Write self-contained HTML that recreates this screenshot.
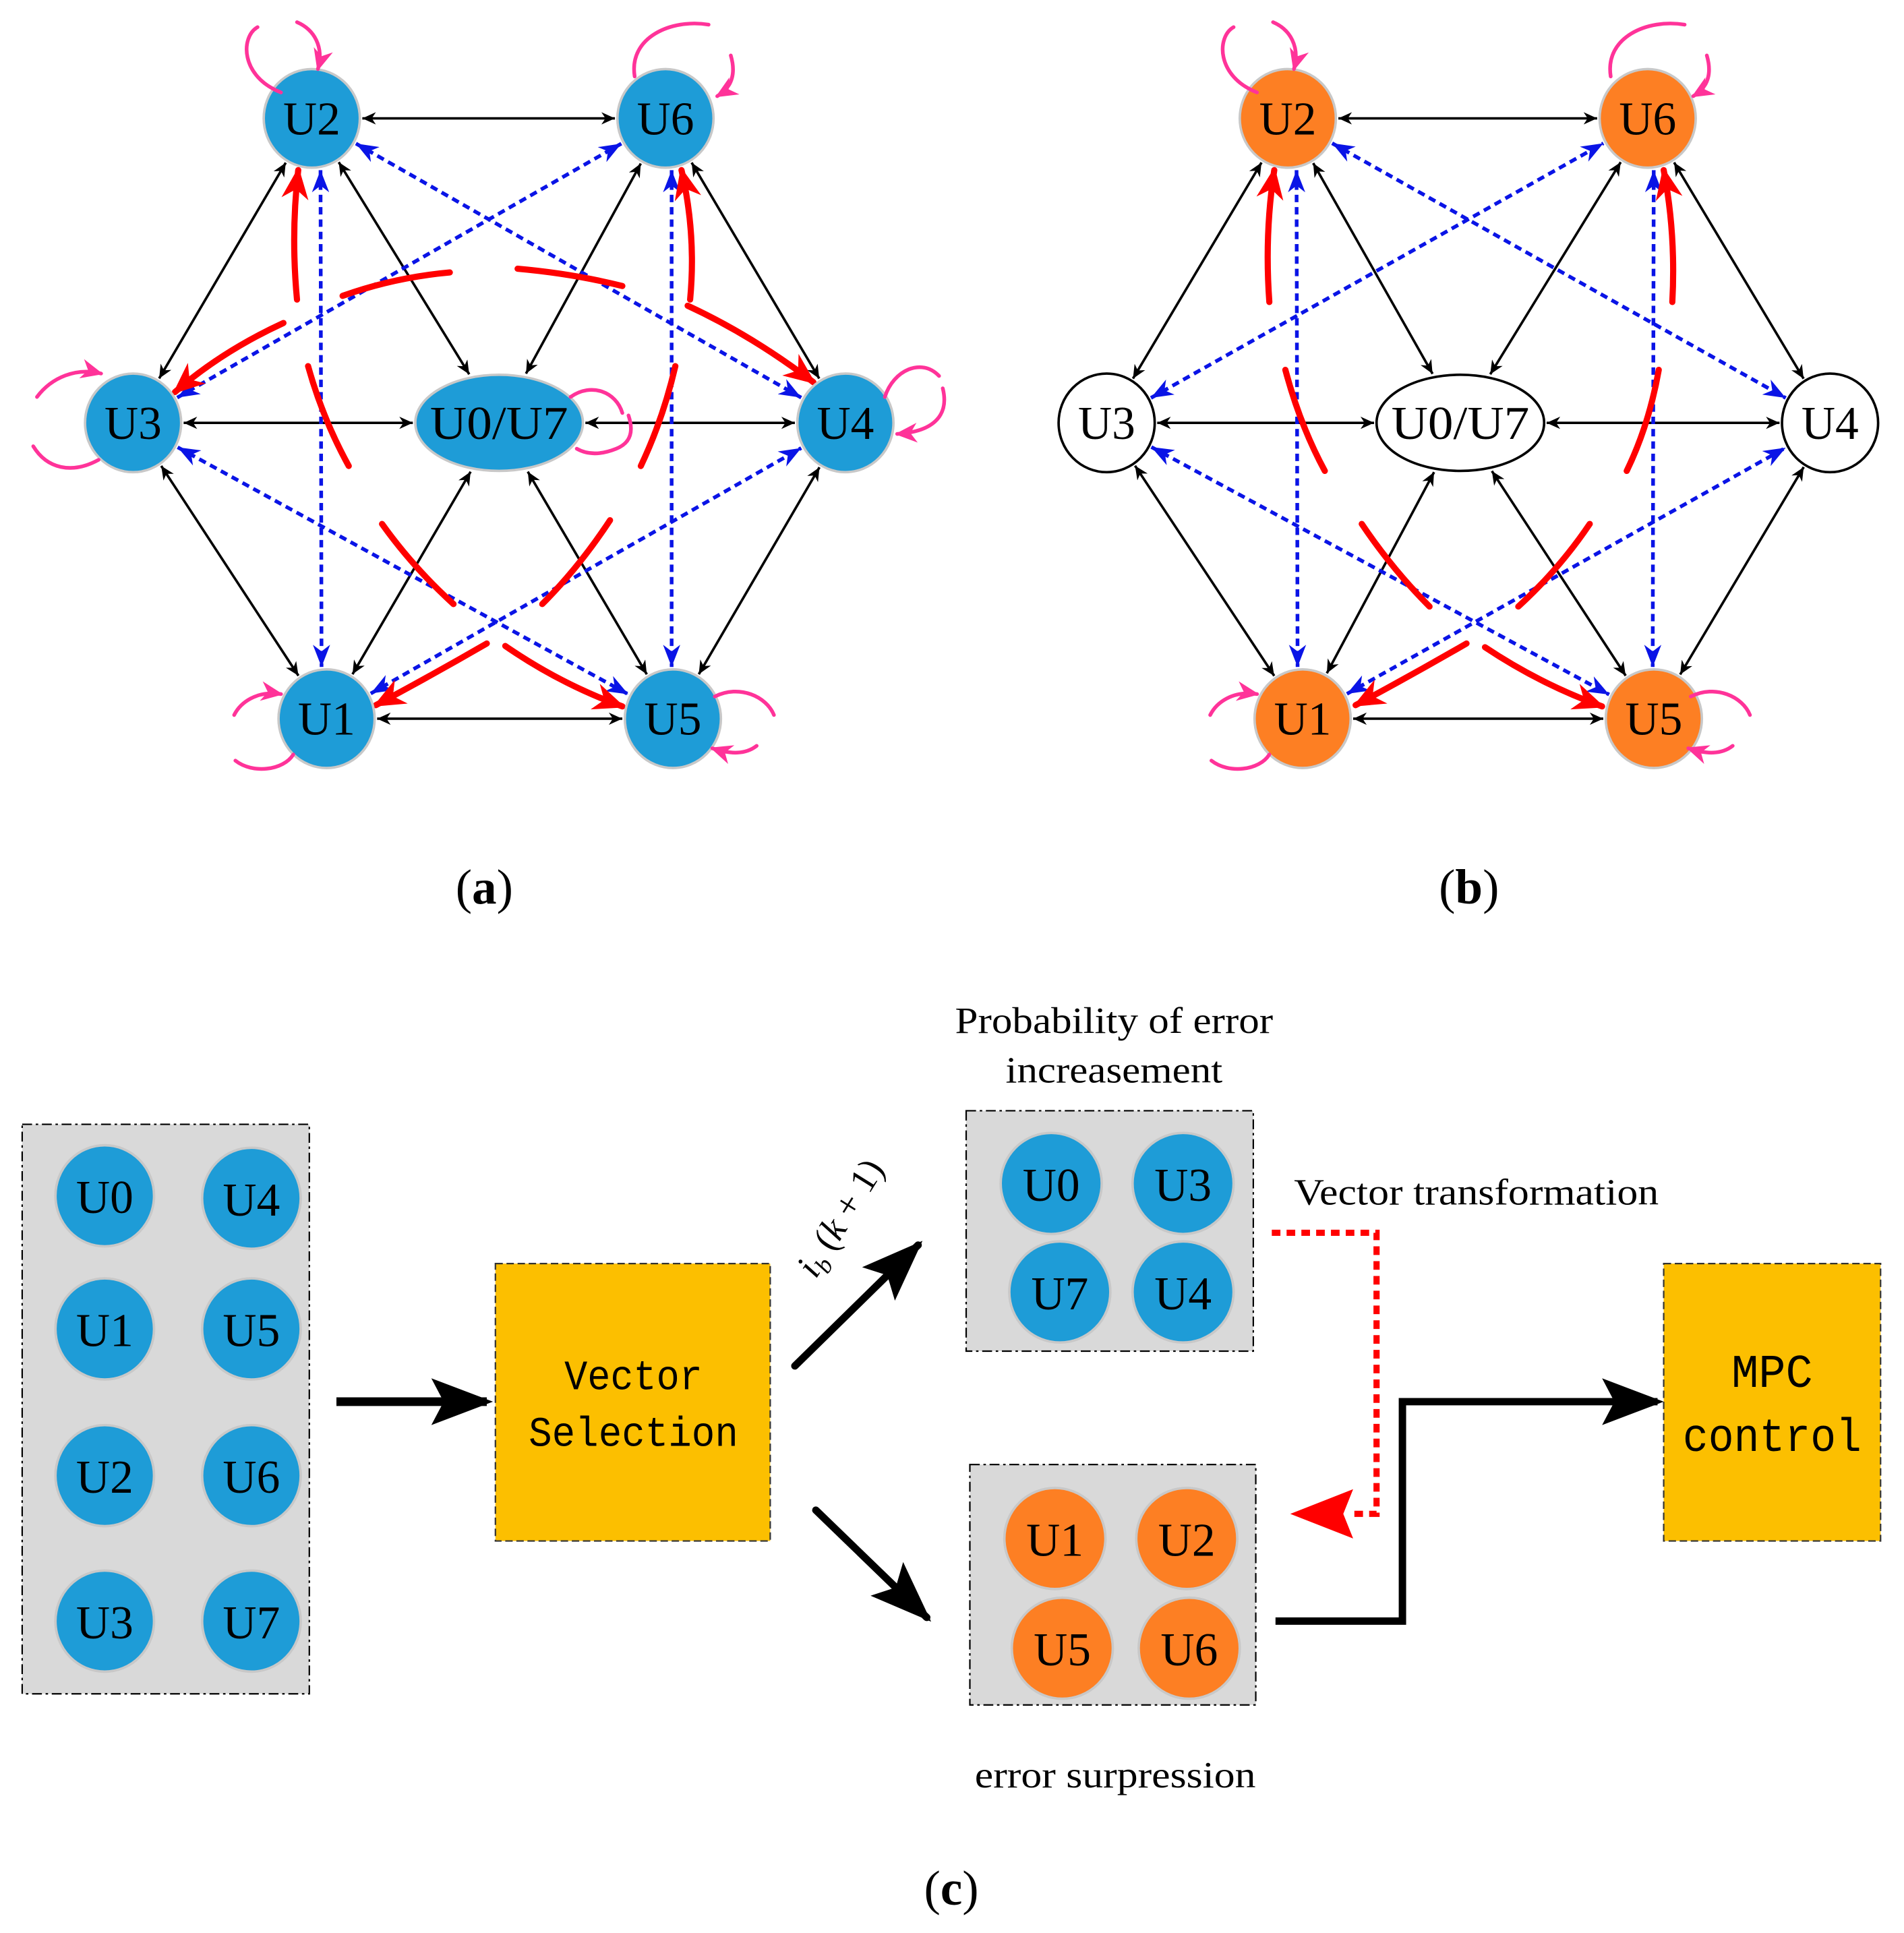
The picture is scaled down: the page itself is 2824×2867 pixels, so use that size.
<!DOCTYPE html>
<html><head><meta charset="utf-8">
<style>
html,body{margin:0;padding:0;background:#fff;}
svg{display:block;}
text{font-family:"Liberation Serif",serif;}
text.mono{font-family:"Liberation Mono",monospace;}
</style></head>
<body>
<svg id="s" width="2824" height="2867" viewBox="0 0 1545 1568" preserveAspectRatio="none" xmlns="http://www.w3.org/2000/svg">
<defs>
<marker id="mk" viewBox="0 0 10 10" refX="10" refY="5" markerWidth="11" markerHeight="10" markerUnits="userSpaceOnUse" orient="auto-start-reverse" preserveAspectRatio="none"><path d="M0,0 L10,5 L0,10 L3,5 z" fill="#000"/></marker>
<marker id="mb" viewBox="0 0 10 10" refX="10" refY="5" markerWidth="18" markerHeight="14" markerUnits="userSpaceOnUse" orient="auto-start-reverse" preserveAspectRatio="none"><path d="M0,0 L10,5 L0,10 L3,5 z" fill="#0a14e6"/></marker>
<marker id="mr" viewBox="0 0 10 10" refX="9" refY="5" markerWidth="26" markerHeight="22" markerUnits="userSpaceOnUse" orient="auto" preserveAspectRatio="none"><path d="M0,0 L10,5 L0,10 L3,5 z" fill="#ff0000"/></marker>
<marker id="mp" viewBox="0 0 10 10" refX="9" refY="5" markerWidth="18" markerHeight="16" markerUnits="userSpaceOnUse" orient="auto" preserveAspectRatio="none"><path d="M0,0 L10,5 L0,10 L3,5 z" fill="#ff3399"/></marker>
<marker id="mbig" viewBox="0 0 10 10" refX="9" refY="5" markerWidth="50" markerHeight="38" markerUnits="userSpaceOnUse" orient="auto" preserveAspectRatio="none"><path d="M0,0 L10,5 L0,10 L2,5 z" fill="#000"/></marker>
</defs>
<g id="ga"></g>
<g id="gb"></g>

<text x="393" y="733" font-size="40" text-anchor="middle">(<tspan font-weight="bold">a</tspan>)</text>
<text x="1192" y="733" font-size="40" text-anchor="middle">(<tspan font-weight="bold">b</tspan>)</text>

<!-- panel c -->
<rect x="18" y="912" width="233" height="462" fill="#d9d9d9" stroke="#000" stroke-width="1.2" stroke-dasharray="8 3 2 3"/>
<g font-size="38" text-anchor="middle">
<g fill="#1e9cd7" stroke="#c8c8c8" stroke-width="2">
<ellipse cx="85" cy="970" rx="40" ry="41"/><ellipse cx="204" cy="972" rx="40" ry="41"/>
<ellipse cx="85" cy="1078" rx="40" ry="41"/><ellipse cx="204" cy="1078" rx="40" ry="41"/>
<ellipse cx="85" cy="1197" rx="40" ry="41"/><ellipse cx="204" cy="1197" rx="40" ry="41"/>
<ellipse cx="85" cy="1315" rx="40" ry="41"/><ellipse cx="204" cy="1315" rx="40" ry="41"/>
</g>
<text x="85" y="984">U0</text><text x="204" y="986">U4</text>
<text x="85" y="1092">U1</text><text x="204" y="1092">U5</text>
<text x="85" y="1211">U2</text><text x="204" y="1211">U6</text>
<text x="85" y="1329">U3</text><text x="204" y="1329">U7</text>
</g>

<line x1="273" y1="1137" x2="395" y2="1137" stroke="#000" stroke-width="7" marker-end="url(#mbig)"/>
<rect x="402" y="1025" width="223" height="225" fill="#fcbf00" stroke="#333" stroke-width="1.2" stroke-dasharray="6 3"/>
<text class="mono" x="514" y="1127" font-size="34" text-anchor="middle" textLength="112" lengthAdjust="spacingAndGlyphs">Vector</text>
<text class="mono" x="514" y="1173" font-size="34" text-anchor="middle" textLength="170" lengthAdjust="spacingAndGlyphs">Selection</text>

<line x1="645" y1="1108" x2="745" y2="1010" stroke="#000" stroke-width="6" stroke-linecap="round" marker-end="url(#mbig)"/>
<line x1="662" y1="1225" x2="752" y2="1312" stroke="#000" stroke-width="6" stroke-linecap="round" marker-end="url(#mbig)"/>
<text transform="translate(662,1038) rotate(-58)" font-size="30" font-style="italic">i<tspan font-size="20" dy="6">b</tspan><tspan dy="-6" font-style="normal"> (</tspan>k<tspan font-style="normal"> + 1)</tspan></text>

<text x="904" y="838" font-size="30" text-anchor="middle" textLength="258" lengthAdjust="spacingAndGlyphs">Probability of error</text>
<text x="904" y="878" font-size="30" text-anchor="middle" textLength="176" lengthAdjust="spacingAndGlyphs">increasement</text>

<rect x="784" y="901" width="233" height="195" fill="#d9d9d9" stroke="#000" stroke-width="1.2" stroke-dasharray="8 3 2 3"/>
<g font-size="38" text-anchor="middle">
<g fill="#1e9cd7" stroke="#c8c8c8" stroke-width="2">
<ellipse cx="853" cy="960" rx="41" ry="41"/><ellipse cx="960" cy="960" rx="41" ry="41"/>
<ellipse cx="860" cy="1048" rx="41" ry="41"/><ellipse cx="960" cy="1048" rx="41" ry="41"/>
</g>
<text x="853" y="974">U0</text><text x="960" y="974">U3</text>
<text x="860" y="1062">U7</text><text x="960" y="1062">U4</text>
</g>
<text x="1198" y="977" font-size="30" text-anchor="middle" textLength="296" lengthAdjust="spacingAndGlyphs">Vector transformation</text>

<path d="M1032,1000 L1117,1000 L1117,1228 L1098,1228" fill="none" stroke="#ff0000" stroke-width="5" stroke-dasharray="7 5"/>
<polygon points="1047,1228 1098,1208 1090,1228 1098,1248" fill="#ff0000"/>

<rect x="787" y="1188" width="232" height="195" fill="#d9d9d9" stroke="#000" stroke-width="1.2" stroke-dasharray="8 3 2 3"/>
<g font-size="38" text-anchor="middle">
<g fill="#fd7f23" stroke="#c8c8c8" stroke-width="2">
<ellipse cx="856" cy="1248" rx="41" ry="41"/><ellipse cx="963" cy="1248" rx="41" ry="41"/>
<ellipse cx="862" cy="1337" rx="41" ry="41"/><ellipse cx="965" cy="1337" rx="41" ry="41"/>
</g>
<text x="856" y="1262">U1</text><text x="963" y="1262">U2</text>
<text x="862" y="1351">U5</text><text x="965" y="1351">U6</text>
</g>

<path d="M1035,1315 L1138,1315 L1138,1137 L1345,1137" fill="none" stroke="#000" stroke-width="6" marker-end="url(#mbig)"/>
<rect x="1350" y="1025" width="176" height="225" fill="#fcbf00" stroke="#333" stroke-width="1.2" stroke-dasharray="6 3"/>
<text class="mono" x="1438" y="1125" font-size="38" text-anchor="middle" textLength="66" lengthAdjust="spacingAndGlyphs">MPC</text>
<text class="mono" x="1438" y="1177" font-size="38" text-anchor="middle" textLength="145" lengthAdjust="spacingAndGlyphs">control</text>

<text x="905" y="1450" font-size="30" text-anchor="middle" textLength="228" lengthAdjust="spacingAndGlyphs">error surpression</text>
<text x="772" y="1545" font-size="40" text-anchor="middle">(<tspan font-weight="bold">c</tspan>)</text>
</svg>
<script>
(function(){
var NS="http://www.w3.org/2000/svg";
function el(g,tag,attrs,txt){var e=document.createElementNS(NS,tag);for(var k in attrs)e.setAttribute(k,attrs[k]);if(txt)e.textContent=txt;g.appendChild(e);return e;}
var base={U2:[253,96],U6:[540,96],U3:[108,343],U0:[405,343],U4:[686,343],U1:[265,583],U5:[546,583]};
var bxy={U2:[1045,96],U6:[1337,96],U3:[898,343],U0:[1185,343],U4:[1485,343],U1:[1057,583],U5:[1342,583]};
function trim(c,o,name){var dx=o[0]-c[0],dy=o[1]-c[1];var rx=(name=="U0")?70:41,ry=42;var t=1/Math.sqrt((dx/rx)*(dx/rx)+(dy/ry)*(dy/ry));return [c[0]+dx*t,c[1]+dy*t];}
var black=[["U2","U6"],["U2","U3"],["U2","U0"],["U6","U0"],["U6","U4"],["U3","U0"],["U0","U4"],["U3","U1"],["U1","U0"],["U0","U5"],["U4","U5"],["U1","U5"]];
var blue=[["U2","U1"],["U6","U5"],["U3","U6"],["U2","U4"],["U3","U5"],["U1","U4"]];
function panel(g,P){
  black.forEach(function(e){var a=P[e[0]],b=P[e[1]];var p=trim(a,b,e[0]),q=trim(b,a,e[1]);
    el(g,"line",{x1:p[0],y1:p[1],x2:q[0],y2:q[1],stroke:"#000","stroke-width":2,"marker-start":"url(#mk)","marker-end":"url(#mk)"});});
  blue.forEach(function(e){var a=P[e[0]].slice(),b=P[e[1]].slice();
    if(e[0]=="U2"&&e[1]=="U1"){a[0]+=7;b[0]-=4;}
    if(e[0]=="U6"&&e[1]=="U5"){a[0]+=5;b[0]-=1;}
    var p=trim(a,b,e[0]),q=trim(b,a,e[1]);
    el(g,"line",{x1:p[0],y1:p[1],x2:q[0],y2:q[1],stroke:"#0a14e6","stroke-width":3,"stroke-dasharray":"6 4","marker-start":"url(#mb)","marker-end":"url(#mb)"});});
}
var ga=document.getElementById("ga"),gb=document.getElementById("gb");
panel(ga,base);
panel(gb,bxy);
function red(g,d,arrow){var a={d:d,fill:"none",stroke:"#ff0000","stroke-width":5,"stroke-linecap":"round"};if(arrow)a["marker-end"]="url(#mr)";el(g,"path",a);}
red(ga,"M241,243 Q236,190 242,138",1);
red(ga,"M560,243 Q565,190 553,138",1);
red(ga,"M365,221 Q320,225 278,240",0);
red(ga,"M230,262 Q180,285 142,318",1);
red(ga,"M420,218 Q465,222 505,232",0);
red(ga,"M558,248 Q610,272 660,310",1);
red(ga,"M250,297 Q262,340 283,378",0);
red(ga,"M310,425 Q335,460 368,490",0);
red(ga,"M410,524 Q455,555 505,573",1);
red(ga,"M548,297 Q538,340 520,378",0);
red(ga,"M495,422 Q470,460 440,490",0);
red(ga,"M395,522 Q350,548 305,572",1);
red(gb,"M1030,245 Q1026,190 1034,138",1);
red(gb,"M1357,245 Q1360,190 1350,138",1);
red(gb,"M1043,300 Q1055,345 1075,382",0);
red(gb,"M1105,425 Q1130,462 1160,492",0);
red(gb,"M1205,525 Q1250,555 1300,573",1);
red(gb,"M1346,300 Q1338,345 1320,382",0);
red(gb,"M1290,425 Q1265,462 1232,492",0);
red(gb,"M1190,522 Q1145,548 1100,572",1);
function nodes(g,P,fill,stroke,list){
  list.forEach(function(n){var c=P[n];var f=typeof fill=="function"?fill(n):fill;var s=typeof stroke=="function"?stroke(n):stroke;
    el(g,"ellipse",{cx:c[0],cy:c[1],rx:(n=="U0")?68:39,ry:(n=="U0")?39:40,fill:f,stroke:s,"stroke-width":2});
    var t=el(g,"text",{x:c[0],y:c[1]+13,"font-size":38,"text-anchor":"middle"},n=="U0"?"U0/U7":n);
    if(n=="U0"){t.setAttribute("textLength","112");t.setAttribute("lengthAdjust","spacingAndGlyphs");}});
}
var all=["U2","U6","U3","U0","U4","U1","U5"];
nodes(ga,base,"#1e9cd7","#c8c8c8",all);
var orange={U2:1,U6:1,U1:1,U5:1};
nodes(gb,bxy,function(n){return orange[n]?"#fd7f23":"#fff";},function(n){return orange[n]?"#c8c8c8":"#000";},all);
function pink(g,d,arrow){var a={d:d,fill:"none",stroke:"#ff3399","stroke-width":3,"stroke-linecap":"round"};if(arrow)a["marker-end"]="url(#mp)";el(g,"path",a);}
function loops(g,ox,which){
  if(which.U2){pink(g,"M"+(228+ox)+",75 C"+(195+ox)+",62 "+(195+ox)+",30 "+(209+ox)+",22",0);pink(g,"M"+(241+ox)+",18 C"+(255+ox)+",24 "+(263+ox)+",38 "+(258+ox)+",56",1);}
  if(which.U6){pink(g,"M"+(515+ox)+",62 C"+(510+ox)+",30 "+(545+ox)+",15 "+(575+ox)+",20",0);pink(g,"M"+(593+ox)+",45 C"+(598+ox)+",62 "+(592+ox)+",72 "+(582+ox)+",78",1);}
  if(which.U3){pink(g,"M30,322 C42,306 62,298 82,303",1);pink(g,"M27,362 C38,380 58,385 80,373",0);}
  if(which.U0){pink(g,"M463,322 C480,310 500,318 505,335",0);pink(g,"M510,337 C515,352 510,360 500,364 M500,364 C485,370 475,368 468,364",0);}
  if(which.U4){pink(g,"M718,322 C725,300 748,290 762,305",0);pink(g,"M765,315 C770,335 760,350 728,352",1);}
  if(which.U1){pink(g,"M"+(190+ox)+",580 C"+(195+ox)+",570 "+(208+ox)+",560 "+(228+ox)+",563",1);pink(g,"M"+(191+ox)+",617 C"+(205+ox)+",628 "+(230+ox)+",625 "+(238+ox)+",612",0);}
  if(which.U5){pink(g,"M"+(580+ox)+",565 C"+(600+ox)+",555 "+(622+ox)+",565 "+(628+ox)+",580",0);pink(g,"M"+(614+ox)+",605 C"+(605+ox)+",612 "+(593+ox)+",612 "+(578+ox)+",607",1);}
}
loops(ga,0,{U2:1,U6:1,U3:1,U0:1,U4:1,U1:1,U5:1});
loops(el(gb,"g",{}),792,{U2:1,U6:1,U1:1,U5:1});
})();
</script>
</body></html>
